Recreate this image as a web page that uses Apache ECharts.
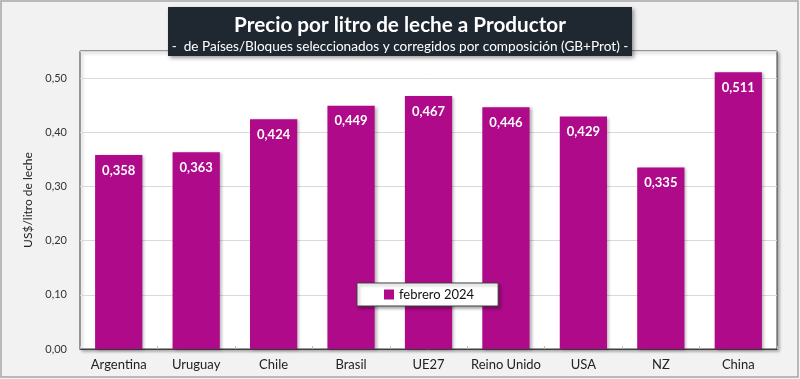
<!DOCTYPE html>
<html>
<head>
<meta charset="utf-8">
<script src="https://cdn.jsdelivr.net/npm/echarts@6/dist/echarts.min.js"></script>
<style>html,body{margin:0;padding:0;background:#f2f2f2;}#c{width:800px;height:379px;}</style>
</head>
<body>
<div id="c"></div>
<script>
const categories = ['Argentina','Uruguay','Chile','Brasil','UE27','Reino Unido','USA','NZ','China'];
const values = [0.358,0.363,0.424,0.449,0.467,0.446,0.429,0.335,0.511];
const seriesName = 'febrero 2024';
const titleText = 'Precio por litro de leche a Productor';
const subTitleText = '-  de Países/Bloques seleccionados y corregidos por composición (GB+Prot) -';
const yAxisName = 'US$/litro de leche';

const FONT = 'Lato, "Open Sans", sans-serif';
const chart = echarts.init(document.getElementById('c'));
chart.setOption({
  backgroundColor: '#f2f2f2',
  animation: false,
  graphic: [
    { type: 'rect', z: -1, shape: { x: 1, y: 1, width: 797, height: 376 },
      style: { fill: 'none', stroke: '#a6a6a6', lineWidth: 1.5 } },
    { type: 'rect', z: 10, shape: { x: 168, y: 7, width: 464, height: 49 },
      style: { fill: '#1f2831', shadowBlur: 4, shadowOffsetX: 2, shadowOffsetY: 2, shadowColor: 'rgba(0,0,0,0.4)' } }
  ],
  title: {
    z: 12,
    left: 'center', top: 10,
    itemGap: 4,
    text: titleText,
    subtext: subTitleText,
    textStyle: { color: '#ffffff', fontFamily: FONT, fontWeight: 'bold', fontSize: 20.7 },
    subtextStyle: { color: '#ffffff', fontFamily: FONT, fontSize: 13.6 }
  },
  legend: {
    data: [seriesName],
    left: 357, top: 283,
    padding: [5, 24, 5, 27],
    itemWidth: 10, itemHeight: 10, itemGap: 8,
    icon: 'rect',
    backgroundColor: '#ffffff',
    borderColor: '#404040', borderWidth: 1,
    shadowBlur: 3, shadowOffsetX: 2, shadowOffsetY: 2, shadowColor: 'rgba(0,0,0,0.35)',
    textStyle: { color: '#111', fontFamily: FONT, fontSize: 13 }
  },
  grid: {
    left: 80, right: 23, top: 51, bottom: 30,
    show: true, backgroundColor: '#ffffff', borderColor: '#404040', borderWidth: 1,
    shadowBlur: 3, shadowOffsetX: 2, shadowOffsetY: 2, shadowColor: 'rgba(0,0,0,0.3)',
    containLabel: false
  },
  xAxis: {
    type: 'category', data: categories,
    axisLine: { show: true, lineStyle: { color: '#404040' } },
    axisTick: { show: true, inside: true, length: 3, lineStyle: { color: '#bbbbbb' } },
    axisLabel: { interval: 0, color: '#222', fontFamily: FONT, fontSize: 13, margin: 9 }
  },
  yAxis: {
    type: 'value', min: 0, max: 0.55, interval: 0.1,
    name: yAxisName, nameLocation: 'middle', nameRotate: 90, nameGap: 42,
    nameTextStyle: { color: '#222', fontFamily: FONT, fontSize: 12 },
    axisLine: { show: false },
    axisTick: { show: false },
    splitLine: { lineStyle: { color: '#d9d9d9' } },
    axisLabel: {
      color: '#333', fontFamily: FONT, fontSize: 11, margin: 13,
      formatter: v => (Math.abs(v - 0.55) < 1e-9 ? '' : v.toFixed(2).replace('.', ','))
    }
  },
  series: [{
    name: seriesName, type: 'bar', data: values,
    barWidth: '61%',
    itemStyle: { color: '#ae0a8a', shadowBlur: 3, shadowOffsetX: 2, shadowOffsetY: 1, shadowColor: 'rgba(0,0,0,0.3)' },
    label: {
      show: true, position: 'insideTop', distance: 9,
      color: '#ffffff', fontFamily: FONT, fontWeight: 'bold', fontSize: 13,
      formatter: p => p.value.toFixed(3).replace('.', ',')
    }
  }]
});
</script>
</body>
</html>
